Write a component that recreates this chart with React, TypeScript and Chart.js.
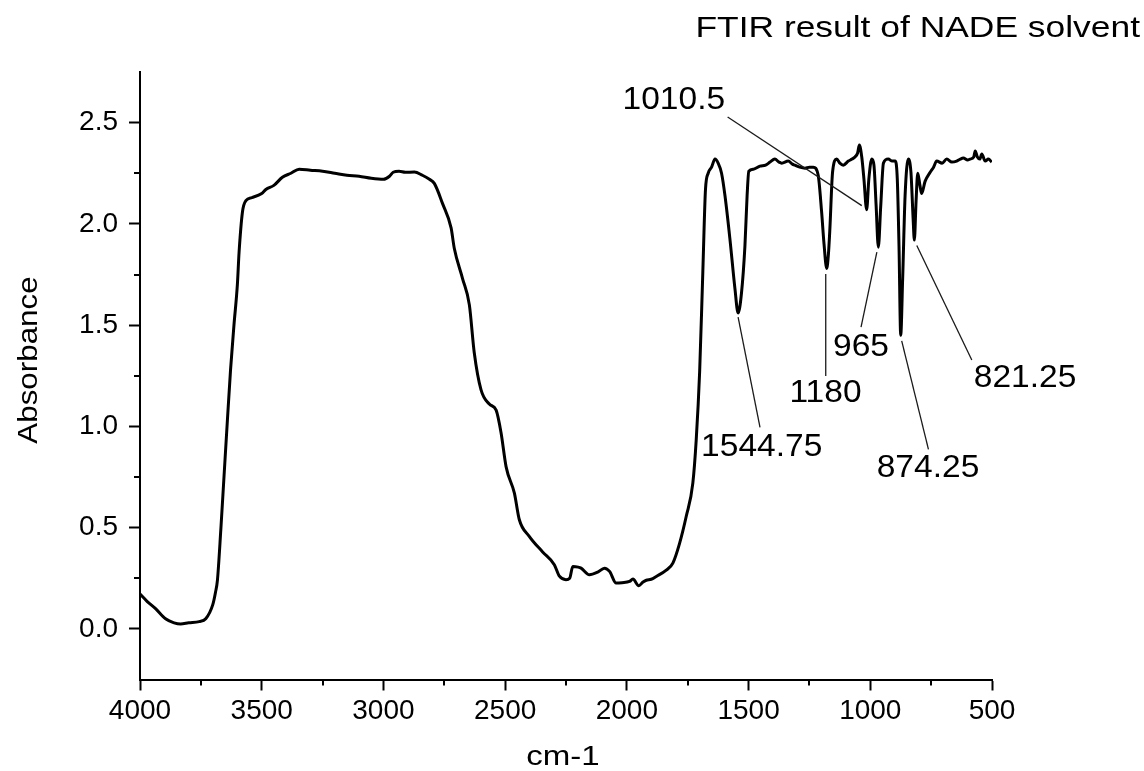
import React, { useEffect, useRef } from "react";
import { Chart, registerables } from "chart.js";

Chart.register(...registerables);

// ---- Data ----
const WAVENUMBERS: number[] = [
  4000, 3970, 3936, 3895, 3860, 3833, 3800, 3757, 3730, 3701, 3690, 3682, 3668, 3655, 3641, 3628, 3614, 3600, 3593,
  3579, 3565, 3540, 3500, 3483, 3450, 3415, 3380, 3346, 3300, 3250, 3200, 3150, 3100, 3050, 3000, 2975, 2960, 2936,
  2910, 2873, 2840, 2811, 2791, 2757, 2722, 2709, 2675, 2647, 2627, 2599, 2565, 2537, 2517, 2496, 2462, 2442, 2401,
  2346, 2298, 2277, 2250, 2235, 2222, 2200, 2188, 2154, 2120, 2092, 2071, 2044, 2020, 1989, 1975, 1951, 1935, 1920,
  1900, 1879, 1838, 1811, 1784, 1756, 1729, 1715, 1701, 1688, 1677, 1666, 1652, 1638, 1625, 1611, 1597, 1577, 1556,
  1543, 1529, 1515, 1506, 1499, 1480, 1453, 1430, 1412, 1392, 1375, 1364, 1337, 1320, 1310, 1290, 1268, 1250, 1234,
  1214, 1200, 1190, 1179, 1172, 1166, 1155, 1138, 1125, 1111, 1090, 1075, 1063, 1052, 1045, 1035, 1026, 1015, 1006,
  994, 985, 976, 967, 957, 946, 926, 910, 898, 889, 882, 875, 867, 857, 844, 833, 824, 819, 812, 805, 796, 789, 775,
  754, 740, 727, 705, 686, 665, 645, 630, 618, 600, 590, 575, 569, 560, 550, 542, 528, 515, 501,
];

const ABSORBANCE: number[] = [
  0.172, 0.135, 0.1, 0.05, 0.03, 0.024, 0.03, 0.036, 0.05, 0.12, 0.18, 0.24, 0.49, 0.75, 1.03, 1.28, 1.5, 1.7, 1.86,
  2.06, 2.115, 2.13, 2.15, 2.17, 2.19, 2.23, 2.25, 2.27, 2.265, 2.26, 2.25, 2.24, 2.235, 2.225, 2.22, 2.235, 2.255, 2.26,
  2.255, 2.256, 2.24, 2.22, 2.2, 2.1, 1.98, 1.88, 1.73, 1.6, 1.365, 1.18, 1.11, 1.08, 0.97, 0.8, 0.67, 0.54, 0.457,
  0.38, 0.317, 0.26, 0.243, 0.25, 0.308, 0.305, 0.3, 0.267, 0.28, 0.3, 0.284, 0.226, 0.228, 0.234, 0.246, 0.213, 0.23, 0.24,
  0.245, 0.259, 0.29, 0.325, 0.42, 0.556, 0.72, 0.935, 1.27, 1.76, 2.17, 2.25, 2.28, 2.32, 2.3, 2.25, 2.14, 1.93, 1.68,
  1.56, 1.66, 1.89, 2.14, 2.26, 2.27, 2.285, 2.29, 2.305, 2.32, 2.305, 2.3, 2.31, 2.295, 2.29, 2.28, 2.275, 2.28, 2.28,
  2.24, 2.06, 1.9, 1.78, 1.85, 1.975, 2.255, 2.32, 2.3, 2.29, 2.31, 2.32, 2.33, 2.35, 2.39, 2.33, 2.22, 2.07, 2.22,
  2.32, 2.29, 2.09, 1.885, 2.09, 2.3, 2.32, 2.31, 2.31, 2.22, 1.89, 1.45, 1.73, 2.14, 2.32, 2.255, 2.025, 1.92, 2.11, 2.25, 2.19, 2.15, 2.21,
  2.255, 2.28, 2.31, 2.3, 2.32, 2.305, 2.31, 2.32, 2.325, 2.315, 2.32, 2.33, 2.36, 2.33, 2.32, 2.345, 2.31, 2.32, 2.305,
];

const X_TICKS: number[] = [4000, 3500, 3000, 2500, 2000, 1500, 1000, 500];
const X_MINOR_TICKS: number[] = [3750, 3250, 2750, 2250, 1750, 1250, 750];
const Y_TICKS: number[] = [0, 0.5, 1, 1.5, 2, 2.5];
const Y_MINOR_TICKS: number[] = [0.25, 0.75, 1.25, 1.75, 2.25];

// Peak annotations: label text, leader line (from peak to label), label anchor (data units)
const PEAK_LABELS: string[] = ["1010.5", "1544.75", "1180", "965", "874.25", "821.25"];
const LEADER_FROM_X: number[] = [1035, 1543, 1183, 973, 871, 809];
const LEADER_FROM_Y: number[] = [2.09, 1.54, 1.752, 1.861, 1.422, 1.893];
const LEADER_TO_X: number[] = [1586, 1453, 1183, 1038, 761, 583];
const LEADER_TO_Y: number[] = [2.528, 0.995, 1.249, 1.49, 0.886, 1.328];
const LABEL_X: number[] = [1807, 1446, 1184, 1038, 763, 364];
const LABEL_Y: number[] = [2.566, 0.856, 1.119, 1.348, 0.748, 1.193];

const TITLE = "FTIR result of NADE solvent";
const X_TITLE = "cm-1";
const Y_TITLE = "Absorbance";

const FONT_FAMILY = '"Liberation Sans", Arial, Helvetica, sans-serif';

function drawText(
  ctx: CanvasRenderingContext2D,
  text: string,
  px: number,
  py: number,
  size: number,
  stretch: number,
  align: CanvasTextAlign,
  rotate = 0
) {
  ctx.save();
  ctx.translate(px, py);
  if (rotate) ctx.rotate(rotate);
  ctx.scale(stretch, 1);
  ctx.font = `${size}px ${FONT_FAMILY}`;
  ctx.textAlign = align;
  ctx.textBaseline = "alphabetic";
  ctx.fillStyle = "#000";
  ctx.fillText(text, 0, 0);
  ctx.restore();
}

const decorPlugin = {
  id: "ftirDecor",
  afterDraw(chart: any) {
    const { ctx, chartArea } = chart;
    const xs = chart.scales.x;
    const ys = chart.scales.y;
    ctx.save();
    // minor ticks
    ctx.strokeStyle = "#000";
    ctx.lineWidth = 2;
    X_MINOR_TICKS.forEach((v) => {
      const px = Math.round(xs.getPixelForValue(v));
      ctx.beginPath();
      ctx.moveTo(px, chartArea.bottom);
      ctx.lineTo(px, chartArea.bottom + 6);
      ctx.stroke();
    });
    Y_MINOR_TICKS.forEach((v) => {
      const py = Math.round(ys.getPixelForValue(v));
      ctx.beginPath();
      ctx.moveTo(chartArea.left, py);
      ctx.lineTo(chartArea.left - 6, py);
      ctx.stroke();
    });
    // leader lines
    ctx.strokeStyle = "#1a1a1a";
    ctx.lineWidth = 1.3;
    PEAK_LABELS.forEach((_, i) => {
      ctx.beginPath();
      ctx.moveTo(xs.getPixelForValue(LEADER_FROM_X[i]), ys.getPixelForValue(LEADER_FROM_Y[i]));
      ctx.lineTo(xs.getPixelForValue(LEADER_TO_X[i]), ys.getPixelForValue(LEADER_TO_Y[i]));
      ctx.stroke();
    });
    // peak labels
    PEAK_LABELS.forEach((label, i) => {
      drawText(ctx, label, xs.getPixelForValue(LABEL_X[i]), ys.getPixelForValue(LABEL_Y[i]), 30.5, 1.1, "center");
    });
    // titles
    drawText(ctx, TITLE, 1140, 36.7, 29.5, 1.2, "right");
    drawText(ctx, X_TITLE, 563, 765, 28, 1.18, "center");
    drawText(ctx, Y_TITLE, 37.3, 360, 28.5, 1.1, "center", -Math.PI / 2);
    ctx.restore();
  },
};

export default function App() {
  const canvasRef = useRef<HTMLCanvasElement | null>(null);

  useEffect(() => {
    if (!canvasRef.current) return;
    document.body.style.margin = "0";
    const points = WAVENUMBERS.map((w, i) => ({ x: w, y: ABSORBANCE[i] }));
    const tickFont = { family: FONT_FAMILY, size: 28 };
    const chart = new Chart(canvasRef.current, {
      type: "line",
      data: {
        datasets: [
          {
            data: points,
            borderColor: "#000",
            borderWidth: 3,
            pointRadius: 0,
            fill: false,
            cubicInterpolationMode: "monotone",
          },
        ],
      },
      options: {
        animation: false,
        responsive: false,
        events: [],
        layout: { padding: { top: 72, right: 152, left: 0, bottom: 0 } },
        plugins: {
          legend: { display: false },
          tooltip: { enabled: false },
          title: { display: false },
        },
        scales: {
          x: {
            type: "linear",
            reverse: true,
            min: 500,
            max: 4000,
            afterBuildTicks: (s: any) => {
              s.ticks = X_TICKS.map((v) => ({ value: v }));
            },
            afterFit: (s: any) => {
              s.height = 91.5;
            },
            ticks: {
              font: tickFont,
              color: "#000",
              padding: 4,
              maxRotation: 0,
              autoSkip: false,
              callback: (v: any) => String(v),
            },
            grid: { drawOnChartArea: false, drawTicks: true, tickLength: 11, tickWidth: 2, tickColor: "#000" },
            border: { display: true, color: "#000", width: 2 },
          },
          y: {
            type: "linear",
            min: -0.25,
            max: 2.75,
            afterBuildTicks: (s: any) => {
              s.ticks = Y_TICKS.map((v) => ({ value: v }));
            },
            afterFit: (s: any) => {
              s.width = 140;
            },
            ticks: {
              font: tickFont,
              color: "#000",
              padding: 11,
              autoSkip: false,
              callback: (v: any) => Number(v).toFixed(1),
            },
            grid: { drawOnChartArea: false, drawTicks: true, tickLength: 11, tickWidth: 2, tickColor: "#000" },
            border: { display: true, color: "#000", width: 2 },
          },
        },
      },
      plugins: [decorPlugin],
    } as any);
    return () => chart.destroy();
  }, []);

  return (
    <div style={{ position: "absolute", left: 0, top: 0, width: 1144, height: 771, background: "#fff" }}>
      <canvas ref={canvasRef} width={1144} height={771} style={{ display: "block" }} />
    </div>
  );
}
